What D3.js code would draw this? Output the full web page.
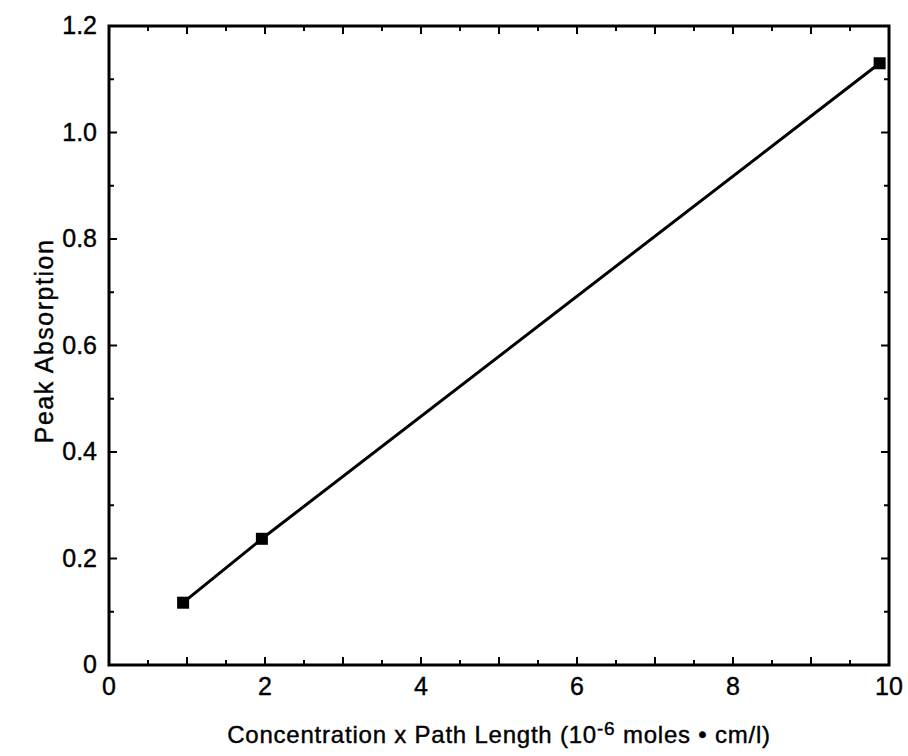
<!DOCTYPE html>
<html><head><meta charset="utf-8">
<script src="https://cdn.jsdelivr.net/npm/d3@7"></script>
<style>body{margin:0;background:#fff}svg{display:block}text{font-family:"Liberation Sans",Arial,sans-serif;fill:#000;stroke:#000;stroke-width:0.4}</style>
</head><body>
<script>
const xValues = [0.95, 1.96, 9.88];
const yValues = [0.117, 0.237, 1.13];
const xTickLabels = [0, 2, 4, 6, 8, 10];
const yTickLabels = [0, 0.2, 0.4, 0.6, 0.8, 1.0, 1.2];

const W = 908, H = 756;
const m = {left: 109, right: 19, top: 26, bottom: 91};
const svg = d3.select("body").append("svg").attr("width", W).attr("height", H);
const x = d3.scaleLinear().domain([0, 10]).range([m.left, W - m.right]);
const y = d3.scaleLinear().domain([0, 1.2]).range([H - m.bottom, m.top]);

const g = svg.append("g");
g.append("rect").attr("x", x(0)).attr("y", y(1.2)).attr("width", x(10) - x(0)).attr("height", y(0) - y(1.2))
  .attr("fill", "none").attr("stroke", "#000").attr("stroke-width", 3);

const xt = d3.range(0, 10.01, 0.5);
const yt = d3.range(0, 1.201, 0.1);
function isMajX(v){return Math.abs(v - Math.round(v)) < 1e-6;}
function isMajY(v){return Math.abs(v*5 - Math.round(v*5)) < 1e-6;}
xt.forEach(v => {
  const L = isMajX(v) ? 8 : 5;
  g.append("line").attr("x1", x(v)).attr("x2", x(v)).attr("y1", y(0)).attr("y2", y(0) - L).attr("stroke", "#000").attr("stroke-width", 2);
  g.append("line").attr("x1", x(v)).attr("x2", x(v)).attr("y1", y(1.2)).attr("y2", y(1.2) + L).attr("stroke", "#000").attr("stroke-width", 2);
});
yt.forEach(v => {
  const L = isMajY(v) ? 8 : 5;
  g.append("line").attr("x1", x(0)).attr("x2", x(0) + L).attr("y1", y(v)).attr("y2", y(v)).attr("stroke", "#000").attr("stroke-width", 2);
  g.append("line").attr("x1", x(10)).attr("x2", x(10) - L).attr("y1", y(v)).attr("y2", y(v)).attr("stroke", "#000").attr("stroke-width", 2);
});
g.selectAll(".xl").data(xTickLabels).enter().append("text")
  .attr("x", d => x(d)).attr("y", y(0) + 30).attr("text-anchor", "middle")
  .attr("font-size", 25).text(d => d);
g.selectAll(".yl").data(yTickLabels).enter().append("text")
  .attr("x", x(0) - 12).attr("y", d => y(d) + 8).attr("text-anchor", "end")
  .attr("font-size", 25).text(d => d === 0 ? "0" : d.toFixed(1));

const pts = xValues.map((v, i) => [v, yValues[i]]);
g.append("path").datum(pts).attr("d", d3.line().x(d => x(d[0])).y(d => y(d[1])))
  .attr("fill", "none").attr("stroke", "#000").attr("stroke-width", 3);
g.selectAll(".pt").data(pts).enter().append("rect")
  .attr("x", d => x(d[0]) - 6).attr("y", d => y(d[1]) - 6).attr("width", 12).attr("height", 12).attr("fill", "#000");

svg.append("text").attr("transform", `translate(53,341) rotate(-90)`)
  .attr("text-anchor", "middle").attr("font-size", 25).attr("letter-spacing", 1.5).text("Peak Absorption");
const xtitle = svg.append("text").attr("x", 499).attr("y", 743).attr("text-anchor", "middle").attr("font-size", 24).attr("letter-spacing", 0.78);
xtitle.append("tspan").text("Concentration x Path Length (10");
xtitle.append("tspan").attr("dy", -8).attr("font-size", 19).text("-6");
xtitle.append("tspan").attr("dy", 8).text(" moles \u2022 cm/l)");
</script>
</body></html>
